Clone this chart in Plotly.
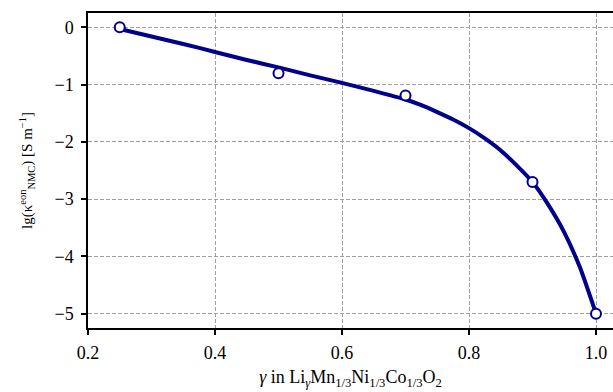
import plotly.graph_objects as go

# measured data points
gamma_pts = [0.25, 0.5, 0.7, 0.9, 1.0]
lg_kappa_pts = [0.0, -0.80, -1.19, -2.70, -5.0]

# fitted curve
gamma_fit = [0.25, 0.30, 0.35, 0.40, 0.45, 0.50, 0.55, 0.60, 0.65, 0.70,
             0.725, 0.75, 0.775, 0.80, 0.825, 0.85, 0.875, 0.90, 0.925, 0.95, 0.975, 1.0]
lg_kappa_fit = [-0.03, -0.16, -0.29, -0.43, -0.57, -0.70, -0.84, -0.97, -1.11, -1.26,
                -1.36, -1.48, -1.61, -1.76, -1.94, -2.15, -2.41, -2.70, -3.10, -3.58, -4.20, -5.0]

x_ticks = [0.2, 0.4, 0.6, 0.8, 1.0]
x_tick_labels = ["0.2", "0.4", "0.6", "0.8", "1.0"]
y_ticks = [0, -1, -2, -3, -4, -5]
y_tick_labels = ["0", "−1", "−2", "−3", "−4", "−5"]

navy = "#00008B"
font_family = "Liberation Serif, DejaVu Serif, serif"

fig = go.Figure()
fig.add_trace(go.Scatter(
    x=gamma_fit, y=lg_kappa_fit, mode="lines",
    line=dict(color=navy, width=4, shape="spline", smoothing=0.5),
    showlegend=False, hoverinfo="skip"))
fig.add_trace(go.Scatter(
    x=gamma_pts, y=lg_kappa_pts, mode="markers",
    marker=dict(symbol="circle", size=10, color="white",
                line=dict(color=navy, width=2)),
    showlegend=False, cliponaxis=False))

axis_common = dict(
    showline=True, linecolor="black", linewidth=1.5,
    ticks="outside", ticklen=5, tickwidth=1.5, tickcolor="black",
    showgrid=True, gridcolor="#a0a0a0", gridwidth=1, griddash="4px,2px",
    zeroline=False, tickfont=dict(family=font_family, size=18, color="black"),
)

fig.update_xaxes(
    range=[0.2, 0.2 + 525 / 635], tickvals=x_ticks, ticktext=x_tick_labels,
    mirror=True, ticklabelstandoff=3,
    title=dict(text="<i>γ</i> in Li<sub><i>γ</i></sub>Mn<sub>1/3</sub>Ni<sub>1/3</sub>Co<sub>1/3</sub>O<sub>2</sub>",
               font=dict(family=font_family, size=18, color="black"), standoff=8),
    **axis_common)
fig.update_yaxes(
    range=[-5.25, 0.25], tickvals=y_ticks, ticktext=y_tick_labels,
    mirror=False, ticklabelstandoff=4,
    title=dict(text="lg(κ<sup>eon</sup><sub>NMC</sub>) [S m<sup>−1</sup>]",
               font=dict(family=font_family, size=15, color="black"), standoff=18),
    **axis_common)

fig.update_layout(
    width=613, height=392,
    margin=dict(l=88, r=0, t=13, b=64),
    plot_bgcolor="white", paper_bgcolor="white",
)

fig.write_html("out.html")
